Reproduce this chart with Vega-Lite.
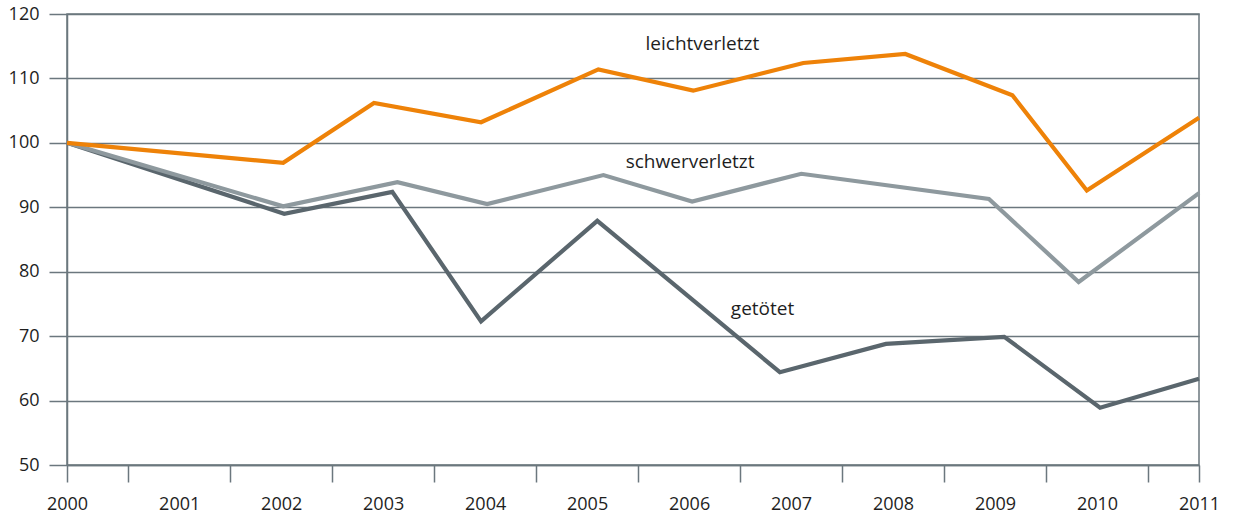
{
  "$schema": "https://vega.github.io/schema/vega-lite/v6.json",
  "width": 1132,
  "height": 451,
  "autosize": "none",
  "padding": {"left": 67, "top": 14, "right": 36, "bottom": 52},
  "background": "white",
  "config": {
    "view": {"stroke": "#6b777e", "strokeWidth": 1.5},
    "axis": {
      "labelFont": "Open Sans",
      "labelFontSize": 18,
      "labelColor": "#1e1e1e",
      "domainColor": "#6b777e",
      "domainWidth": 1.5,
      "tickColor": "#6b777e",
      "tickWidth": 1.5,
      "gridColor": "#6b777e",
      "gridWidth": 1.5,
      "gridOpacity": 1
    }
  },
  "datasets": {
    "series": [
      {"t": 1999.9, "value": 100, "group": "getötet"},
      {"t": 2002.03, "value": 89.0, "group": "getötet"},
      {"t": 2003.09, "value": 92.4, "group": "getötet"},
      {"t": 2003.96, "value": 72.3, "group": "getötet"},
      {"t": 2005.10, "value": 87.9, "group": "getötet"},
      {"t": 2006.89, "value": 64.4, "group": "getötet"},
      {"t": 2007.93, "value": 68.8, "group": "getötet"},
      {"t": 2009.09, "value": 69.9, "group": "getötet"},
      {"t": 2010.03, "value": 58.9, "group": "getötet"},
      {"t": 2011.0, "value": 63.4, "group": "getötet"},
      {"t": 1999.9, "value": 100, "group": "schwerverletzt"},
      {"t": 2002.02, "value": 90.15, "group": "schwerverletzt"},
      {"t": 2003.14, "value": 93.9, "group": "schwerverletzt"},
      {"t": 2004.02, "value": 90.5, "group": "schwerverletzt"},
      {"t": 2005.16, "value": 95.0, "group": "schwerverletzt"},
      {"t": 2006.03, "value": 90.9, "group": "schwerverletzt"},
      {"t": 2007.10, "value": 95.2, "group": "schwerverletzt"},
      {"t": 2008.94, "value": 91.3, "group": "schwerverletzt"},
      {"t": 2009.82, "value": 78.4, "group": "schwerverletzt"},
      {"t": 2011.0, "value": 92.2, "group": "schwerverletzt"},
      {"t": 1999.9, "value": 100, "group": "leichtverletzt"},
      {"t": 2002.02, "value": 96.9, "group": "leichtverletzt"},
      {"t": 2002.91, "value": 106.2, "group": "leichtverletzt"},
      {"t": 2003.96, "value": 103.2, "group": "leichtverletzt"},
      {"t": 2005.11, "value": 111.4, "group": "leichtverletzt"},
      {"t": 2006.04, "value": 108.1, "group": "leichtverletzt"},
      {"t": 2007.12, "value": 112.4, "group": "leichtverletzt"},
      {"t": 2008.12, "value": 113.8, "group": "leichtverletzt"},
      {"t": 2009.17, "value": 107.4, "group": "leichtverletzt"},
      {"t": 2009.90, "value": 92.6, "group": "leichtverletzt"},
      {"t": 2011.0, "value": 103.9, "group": "leichtverletzt"}
    ],
    "labels": [
      {"t": 2006.13, "value": 114.4, "label": "leichtverletzt"},
      {"t": 2006.01, "value": 96.1, "label": "schwerverletzt"},
      {"t": 2006.72, "value": 73.3, "label": "getötet"}
    ]
  },
  "resolve": {"axis": {"x": "independent"}},
  "layer": [
    {
      "data": {"name": "series"},
      "mark": {"type": "line", "strokeWidth": 4.2, "strokeJoin": "miter"},
      "encoding": {
        "x": {
          "field": "t",
          "type": "quantitative",
          "scale": {"domain": [1999.9, 2011], "nice": false, "zero": false},
          "axis": {
            "orient": "bottom",
            "title": null,
            "values": [1999.9, 2001, 2002, 2003, 2004, 2005, 2006, 2007, 2008, 2009, 2010, 2011],
            "format": "d",
            "ticks": false,
            "domain": false,
            "grid": false,
            "labelFlush": false,
            "labelOverlap": false,
            "labelBound": false,
            "labelPadding": 30
          }
        },
        "y": {
          "field": "value",
          "type": "quantitative",
          "scale": {"domain": [50, 120], "nice": false, "zero": false},
          "axis": {
            "title": null,
            "values": [50, 60, 70, 80, 90, 100, 110, 120],
            "tickSize": 18,
            "labelPadding": 10,
            "grid": true,
            "domain": true
          }
        },
        "color": {
          "field": "group",
          "type": "nominal",
          "scale": {
            "domain": ["getötet", "schwerverletzt", "leichtverletzt"],
            "range": ["#5a666d", "#8e999e", "#ee8208"]
          },
          "legend": null
        }
      }
    },
    {
      "data": {"name": "labels"},
      "mark": {"type": "text", "font": "Open Sans", "fontSize": 19, "color": "#1e1e1e", "align": "center", "baseline": "alphabetic"},
      "encoding": {
        "x": {
          "field": "t",
          "type": "quantitative",
          "axis": {
            "orient": "bottom",
            "title": null,
            "values": [1999.9, 2000.5, 2001.5, 2002.5, 2003.5, 2004.5, 2005.5, 2006.5, 2007.5, 2008.5, 2009.5, 2010.5, 2011],
            "labels": false,
            "ticks": true,
            "tickSize": 17,
            "domain": true,
            "grid": false
          }
        },
        "y": {
          "field": "value",
          "type": "quantitative",
          "axis": {
            "title": null,
            "values": [50, 60, 70, 80, 90, 100, 110, 120],
            "tickSize": 18,
            "labelPadding": 10,
            "grid": true,
            "domain": true
          }
        },
        "text": {"field": "label"}
      }
    }
  ]
}
